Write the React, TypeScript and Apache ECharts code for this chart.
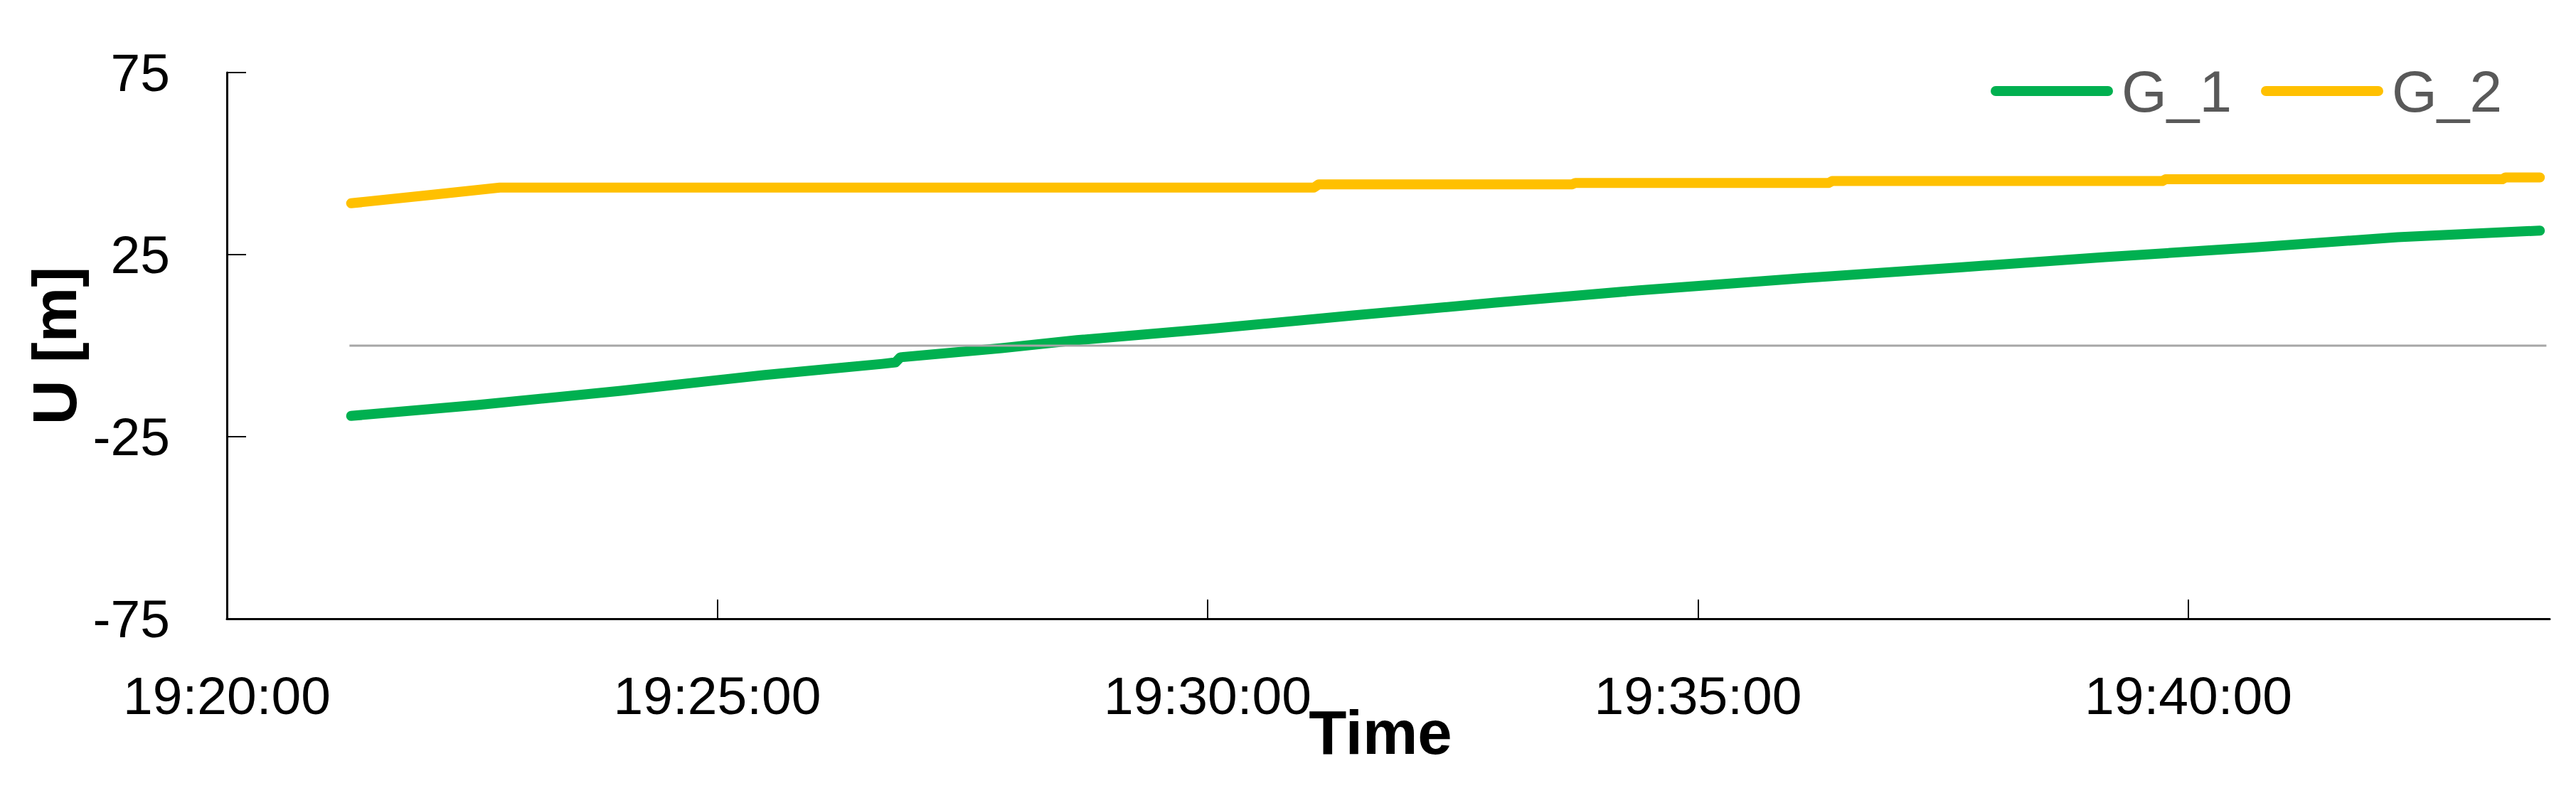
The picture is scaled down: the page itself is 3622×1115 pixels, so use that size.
import React, { useEffect, useRef } from "react";
import * as echarts from "echarts";

// ---- data ----
const g1Times = [
  "19:21:16", "19:22:33", "19:24:01", "19:25:28", "19:26:41", "19:26:49", "19:26:52",
  "19:27:54", "19:28:40", "19:30:01", "19:31:29", "19:32:56", "19:34:24", "19:36:06",
  "19:37:40", "19:39:09", "19:40:38", "19:42:08", "19:43:35",
];
const g1Values = [
  -19.3, -16.3, -12.4, -8.1, -5.0, -4.6, -3.2,
  -0.7, 1.5, 4.6, 8.3, 11.8, 15.2, 18.6,
  21.5, 24.3, 26.9, 29.8, 31.6,
];
const g2Times = [
  "19:21:16", "19:22:03", "19:22:47", "19:31:05", "19:31:08", "19:33:43", "19:33:45",
  "19:36:20", "19:36:22", "19:39:44", "19:39:46", "19:43:12", "19:43:14", "19:43:35",
];
const g2Values = [
  39.1, 41.3, 43.4, 43.4, 44.3, 44.3, 44.7,
  44.7, 45.2, 45.2, 45.7, 45.7, 46.2, 46.2,
];
const zeroTimes = ["19:21:15", "19:43:39"];
const zeroValues = [0, 0];
const xTickLabels = ["19:20:00", "19:25:00", "19:30:00", "19:35:00", "19:40:00"];
const xMinLabel = "19:20:00";
const xMaxLabel = "19:43:41";
const yTicks = [-75, -25, 25, 75];
const seriesNames = ["G_1", "G_2"];

const toSec = (s: string) => {
  const [h, m, sec] = s.split(":").map(Number);
  return h * 3600 + m * 60 + sec;
};
const pad = (n: number) => (n < 10 ? "0" + n : "" + n);
const fmt = (v: number) => {
  const t = Math.round(v);
  return pad(Math.floor(t / 3600)) + ":" + pad(Math.floor((t % 3600) / 60)) + ":" + pad(t % 60);
};
const pairs = (ts: string[], vs: number[]) => ts.map((t, i) => [toSec(t), vs[i]]);

const FONT = "Liberation Sans";
const LW = 14;

export default function App() {
  const ref = useRef<HTMLDivElement>(null);
  useEffect(() => {
    if (!ref.current) return;
    const chart = echarts.init(ref.current, null, { renderer: "svg" });
    const xTicks = xTickLabels.map(toSec);
    chart.setOption({
      animation: false,
      backgroundColor: "#fff",
      grid: { left: 319, right: 37, top: 102, bottom: 245, containLabel: false },
      legend: {
        data: seriesNames,
        left: 2794,
        top: 82,
        itemWidth: 158,
        itemHeight: 14,
        itemGap: 41,
        lineStyle: { width: LW, cap: "round" },
        textStyle: { fontFamily: FONT, fontSize: 82, color: "#595959", padding: [0, 0, 0, 14] },
      },
      xAxis: {
        type: "value",
        min: toSec(xMinLabel),
        max: toSec(xMaxLabel),
        name: "Time",
        nameLocation: "middle",
        nameGap: 116,
        nameMoveOverlap: false,
        nameTextStyle: {
          fontFamily: FONT, fontSize: 87, fontWeight: "bold", color: "#000",
          padding: [0, 22, 0, 0],
        },
        splitLine: { show: false },
        axisLine: { show: true, onZero: false, lineStyle: { color: "#000", width: 3 } },
        axisTick: {
          show: true, inside: true, length: 27, customValues: xTicks,
          lineStyle: { color: "#000", width: 2 },
        },
        axisLabel: {
          customValues: xTicks,
          formatter: (v: number) => fmt(v),
          fontFamily: FONT, fontSize: 75, color: "#000", margin: 70,
        },
      },
      yAxis: {
        type: "value",
        min: -75,
        max: 75,
        name: "U [m]",
        nameLocation: "middle",
        nameGap: 192,
        nameTextStyle: { fontFamily: FONT, fontSize: 87, fontWeight: "bold", color: "#000" },
        splitLine: { show: false },
        axisLine: { show: true, onZero: false, lineStyle: { color: "#000", width: 3 } },
        axisTick: {
          show: true, inside: true, length: 27, customValues: yTicks,
          lineStyle: { color: "#000", width: 2 },
        },
        axisLabel: {
          customValues: yTicks,
          fontFamily: FONT, fontSize: 75, color: "#000", margin: 80,
        },
      },
      series: [
        {
          name: seriesNames[0],
          type: "line",
          data: pairs(g1Times, g1Values),
          symbol: "none",
          showSymbol: false,
          color: "#00B050",
          lineStyle: { width: LW, color: "#00B050", cap: "round", join: "round" },
        },
        {
          name: seriesNames[1],
          type: "line",
          data: pairs(g2Times, g2Values),
          symbol: "none",
          showSymbol: false,
          color: "#FFC000",
          lineStyle: { width: LW, color: "#FFC000", cap: "round", join: "round" },
        },
        {
          name: "zero",
          type: "line",
          data: pairs(zeroTimes, zeroValues),
          symbol: "none",
          showSymbol: false,
          silent: true,
          color: "#A6A6A6",
          lineStyle: { width: 3, color: "#A6A6A6" },
        },
      ],
    });
    return () => chart.dispose();
  }, []);
  return (
    <div
      ref={ref}
      style={{ position: "fixed", left: 0, top: 0, width: 3622, height: 1115, background: "#fff" }}
    />
  );
}
